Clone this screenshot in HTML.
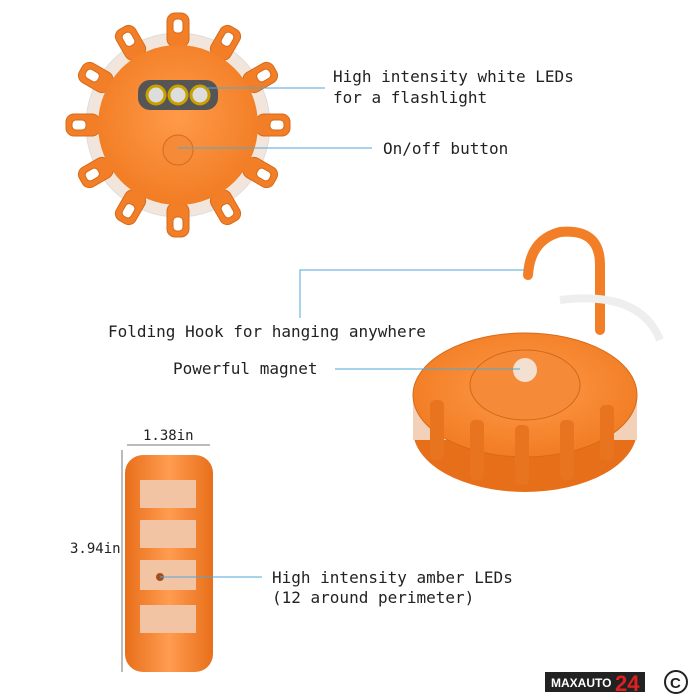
<!DOCTYPE html>
<html><head><meta charset="utf-8"><style>
html,body{margin:0;padding:0;background:#fff;width:700px;height:700px;overflow:hidden}
svg{display:block}
text{font-family:"DejaVu Sans Mono","Liberation Mono",monospace;font-size:16px;fill:#222}
</style></head><body>
<svg width="700" height="700" viewBox="0 0 700 700">
<defs>
<radialGradient id="g1" cx="50%" cy="45%" r="60%"><stop offset="0" stop-color="#ff9a4a"/><stop offset="1" stop-color="#f07a20"/></radialGradient>
<linearGradient id="g2" x1="0" y1="0" x2="1" y2="0"><stop offset="0" stop-color="#e86f1a"/><stop offset=".5" stop-color="#ff9c50"/><stop offset="1" stop-color="#e86f1a"/></linearGradient>
</defs>
<g transform="translate(178,125)">
<circle r="92" fill="#f2e6dc" stroke="#ddd"/>
<g fill="#f27e28" stroke="#d86a18" stroke-width="1">
<g id="tab"><rect x="-11" y="-112" width="22" height="34" rx="8"/><rect x="-5" y="-106" width="10" height="14" rx="4" fill="#fff"/></g>
<use href="#tab" transform="rotate(30)"/><use href="#tab" transform="rotate(60)"/><use href="#tab" transform="rotate(90)"/><use href="#tab" transform="rotate(120)"/><use href="#tab" transform="rotate(150)"/><use href="#tab" transform="rotate(180)"/><use href="#tab" transform="rotate(210)"/><use href="#tab" transform="rotate(240)"/><use href="#tab" transform="rotate(270)"/><use href="#tab" transform="rotate(300)"/><use href="#tab" transform="rotate(330)"/>
</g>
<circle r="80" fill="url(#g1)"/>
<rect x="-40" y="-45" width="80" height="30" rx="12" fill="#555"/>
<circle cx="-22" cy="-30" r="9" fill="#ddd" stroke="#c9a000" stroke-width="3"/>
<circle cx="0" cy="-30" r="9" fill="#ddd" stroke="#c9a000" stroke-width="3"/>
<circle cx="22" cy="-30" r="9" fill="#ddd" stroke="#c9a000" stroke-width="3"/>
<circle cx="0" cy="25" r="15" fill="#f58a38" stroke="#d86a18"/>
</g>
<path d="M528,275 Q530,240 560,232 Q600,228 600,265 L600,330" stroke="#f27e28" stroke-width="10" fill="none" stroke-linecap="round"/>
<path d="M560,300 Q640,290 660,340" stroke="#eee" stroke-width="8" fill="none"/>
<ellipse cx="525" cy="430" rx="112" ry="62" fill="#e86f1a"/>
<rect x="413" y="390" width="224" height="50" fill="#f3d0b8"/>
<ellipse cx="525" cy="395" rx="112" ry="62" fill="url(#g1)" stroke="#d86a18"/>
<ellipse cx="525" cy="385" rx="55" ry="35" fill="#f58a38" stroke="#d06a18"/>
<circle cx="525" cy="370" r="12" fill="#f4e0d0"/>
<g fill="#e87420"><rect x="430" y="400" width="14" height="60" rx="5"/><rect x="470" y="420" width="14" height="60" rx="5"/><rect x="515" y="425" width="14" height="60" rx="5"/><rect x="560" y="420" width="14" height="60" rx="5"/><rect x="600" y="405" width="14" height="55" rx="5"/></g>
<rect x="125" y="455" width="88" height="217" rx="18" fill="url(#g2)"/>
<g fill="#f3c4a4"><rect x="140" y="480" width="56" height="28"/><rect x="140" y="520" width="56" height="28"/><rect x="140" y="560" width="56" height="30"/><rect x="140" y="605" width="56" height="28"/></g>
<circle cx="160" cy="577" r="4" fill="#a05020"/>
<g stroke="#4fa8d8" stroke-width="1" fill="none">
<line x1="205" y1="88" x2="325" y2="88"/>
<line x1="178" y1="148" x2="372" y2="148"/>
<polyline points="300,318 300,270 525,270"/>
<line x1="335" y1="369" x2="520" y2="369"/>
<line x1="160" y1="577" x2="262" y2="577"/>
<line x1="127" y1="445" x2="210" y2="445" stroke="#777"/>
<line x1="122" y1="450" x2="122" y2="672" stroke="#777"/>
</g>
<text x="333" y="82">High intensity white LEDs</text>
<text x="333" y="103">for a flashlight</text>
<text x="383" y="154">On/off button</text>
<text x="108" y="337">Folding Hook for hanging anywhere</text>
<text x="173" y="374">Powerful magnet</text>
<text x="272" y="583">High intensity amber LEDs</text>
<text x="272" y="603">(12 around perimeter)</text>
<text x="143" y="440" style="font-size:14px">1.38in</text>
<text x="70" y="553" style="font-size:14px">3.94in</text>
<rect x="545" y="672" width="100" height="20" fill="#222"/>
<text x="551" y="687" style="font-family:'Liberation Sans',sans-serif;font-weight:bold;font-size:12px;fill:#fff">MAXAUTO</text>
<text x="615" y="691" style="font-family:'Liberation Sans',sans-serif;font-weight:bold;font-size:22px;fill:#e02020">24</text>
<circle cx="676" cy="682" r="11" fill="none" stroke="#222" stroke-width="2"/>
<text x="670" y="688" style="font-family:'Liberation Sans',sans-serif;font-size:15px;font-weight:bold">C</text>
</svg>
</body></html>
